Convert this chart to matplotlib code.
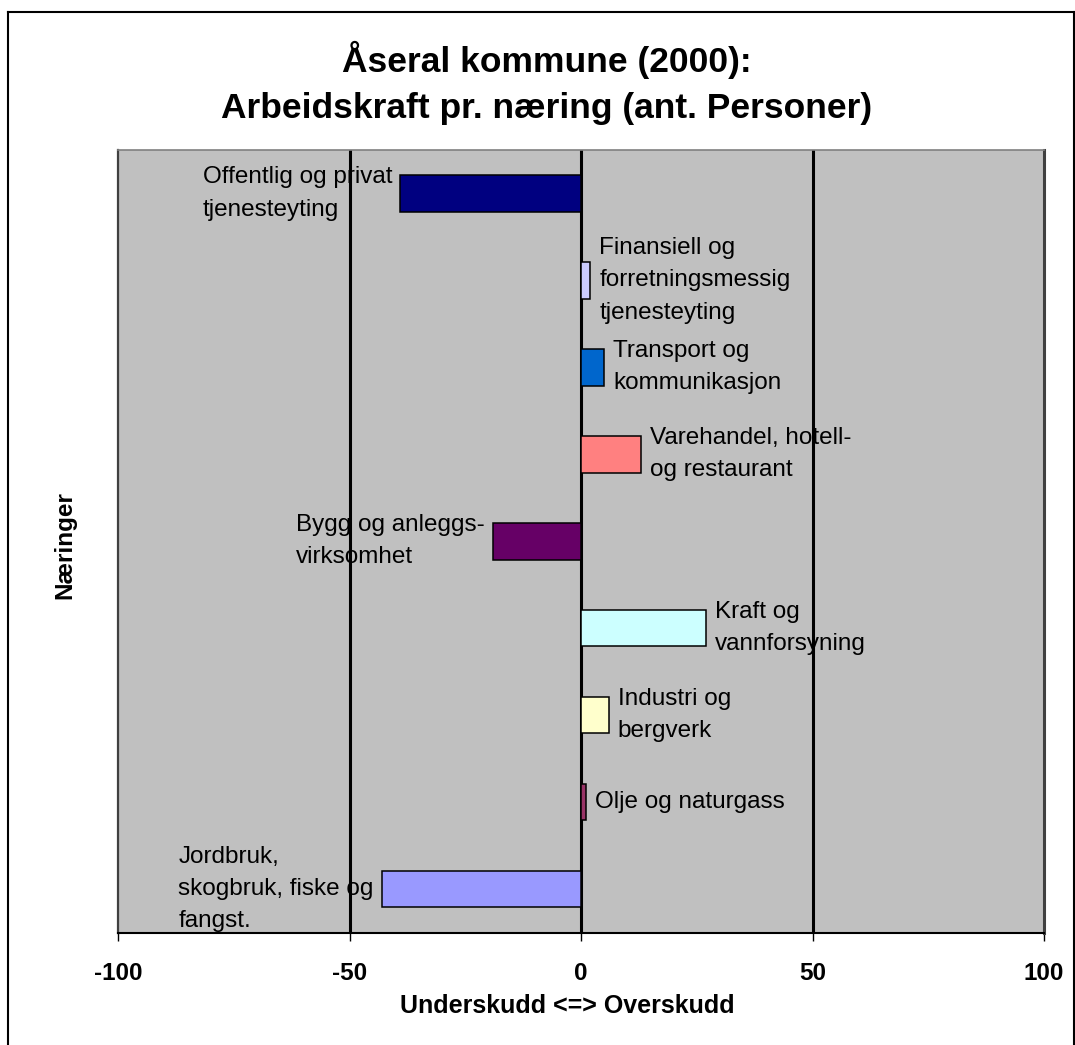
import matplotlib
matplotlib.use('Agg')
import matplotlib.pyplot as plt
from matplotlib.lines import Line2D

plt.rcParams['font.family'] = ['Liberation Sans', 'DejaVu Sans']

# data, top to bottom
naeringer = ['Offentlig og privat\ntjenesteyting',
             'Finansiell og\nforretningsmessig\ntjenesteyting',
             'Transport og\nkommunikasjon',
             'Varehandel, hotell-\nog restaurant',
             'Bygg og anleggs-\nvirksomhet',
             'Kraft og\nvannforsyning',
             'Industri og\nbergverk',
             'Olje og naturgass',
             'Jordbruk,\nskogbruk, fiske og\nfangst.']
verdier = [-39, 2, 5, 13, -19, 27, 6, 1, -43]
farger = ['#000080', '#CCCCFF', '#0066CC', '#FF8080', '#660066',
          '#CCFFFF', '#FFFFCC', '#993366', '#9999FF']
xticks = [-100, -50, 0, 50, 100]

W, H = 1075, 1045
fig = plt.figure(figsize=(W / 100, H / 100), dpi=100)
fig.patch.set_facecolor('white')

# outer frame (no bottom edge visible)
for xs, ys in [([8, 8], [H + 5, 12]), ([8, 1074], [12, 12]), ([1074, 1074], [12, H + 5])]:
    fig.add_artist(Line2D([x / W for x in xs], [1 - y / H for y in ys],
                          color='black', lw=1.5, transform=fig.transFigure))

ax = fig.add_axes([118 / W, 1 - 932.5 / H, 926 / W, (932.5 - 150) / H])
ax.set_facecolor('#C0C0C0')

for x in [-50, 0, 50]:
    ax.axvline(x, color='black', lw=2.2, zorder=1)

pos = list(range(len(verdier)))
ax.barh(pos, verdier, height=0.42, color=farger, edgecolor='black',
        linewidth=1.1, zorder=3)

for p, v, lab in zip(pos, verdier, naeringer):
    if v < 0:
        ax.annotate(lab, (v, p), xytext=(-6, 0), textcoords='offset points',
                    ha='right', va='center', multialignment='left',
                    fontsize=17.5, linespacing=1.6, zorder=4)
    else:
        ax.annotate(lab, (v, p), xytext=(6.5, 0), textcoords='offset points',
                    ha='left', va='center', multialignment='left',
                    fontsize=17.5, linespacing=1.6, zorder=4)

ax.set_xlim(-100, 100)
ax.set_ylim(len(verdier) - 0.5, -0.5)
ax.set_yticks([])
ax.set_xticks(xticks)
ax.set_xticklabels([str(t) for t in xticks], fontsize=17.5, fontweight='bold')
ax.tick_params(axis='x', direction='out', length=6, width=1, pad=15.5, color='black')

ax.spines['left'].set_color('#404040')
ax.spines['left'].set_linewidth(1.6)
ax.spines['top'].set_color('#808080')
ax.spines['top'].set_linewidth(1.2)
ax.spines['right'].set_color('#404040')
ax.spines['right'].set_linewidth(2.2)
ax.spines['bottom'].set_color('black')
ax.spines['bottom'].set_linewidth(1.5)

fig.text(567 / W, 1 - 1013 / H, 'Underskudd <=> Overskudd', fontsize=18,
         fontweight='bold', ha='center', va='baseline')
fig.text(65 / W, 1 - 545 / H, 'Næringer', rotation=90, fontsize=17.5,
         fontweight='bold', ha='center', va='center')

fig.text(547 / W, 1 - 72 / H, 'Åseral kommune (2000):', fontsize=25.5,
         fontweight='bold', ha='center', va='baseline')
fig.text(547 / W, 1 - 118 / H, 'Arbeidskraft pr. næring (ant. Personer)', fontsize=25.5,
         fontweight='bold', ha='center', va='baseline')

fig.savefig('out.png', dpi=100)
